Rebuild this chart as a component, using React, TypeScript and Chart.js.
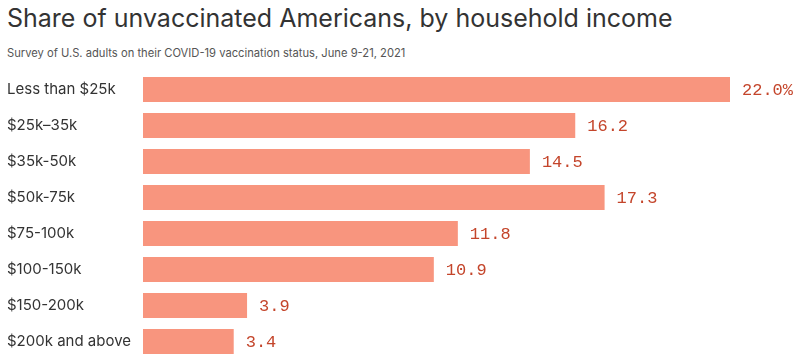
import React, { useEffect, useRef } from "react";
import { Chart, registerables } from "chart.js";

Chart.register(...registerables);

const categories = [
  "Less than $25k",
  "$25k–35k",
  "$35k-50k",
  "$50k-75k",
  "$75-100k",
  "$100-150k",
  "$150-200k",
  "$200k and above",
];
const values = [22.0, 16.2, 14.5, 17.3, 11.8, 10.9, 3.9, 3.4];
const valueLabels = ["22.0%", "16.2", "14.5", "17.3", "11.8", "10.9", "3.9", "3.4"];

const TITLE = "Share of unvaccinated Americans, by household income";
const SUBTITLE = "Survey of U.S. adults on their COVID-19 vaccination status, June 9-21, 2021";

const FONT = "Inter, 'Noto Sans', sans-serif";

const valueLabelPlugin = {
  id: "valueLabels",
  afterDatasetsDraw(chart: any) {
    const ctx = chart.ctx;
    const meta = chart.getDatasetMeta(0);
    ctx.save();
    ctx.font = "17px 'Liberation Mono', 'DejaVu Sans Mono', monospace";
    ctx.fillStyle = "#c4452b";
    ctx.textAlign = "left";
    ctx.textBaseline = "middle";
    meta.data.forEach((bar: any, i: number) => {
      ctx.fillText(valueLabels[i], bar.x + 12, bar.y + 1);
    });
    ctx.restore();
  },
};

export default function App() {
  const ref = useRef<HTMLCanvasElement>(null);
  useEffect(() => {
    if (!ref.current) return;
    const chart = new Chart(ref.current, {
      type: "bar",
      data: {
        labels: categories,
        datasets: [
          {
            data: values,
            backgroundColor: "#f8957e",
            borderWidth: 0,
            barPercentage: 25 / 36,
            categoryPercentage: 1,
          },
        ],
      },
      options: {
        indexAxis: "y",
        animation: false,
        responsive: false,
        maintainAspectRatio: false,
        layout: { padding: { left: 7, top: 71.5, right: 71, bottom: 3.5 } },
        plugins: {
          legend: { display: false },
          tooltip: { enabled: false },
          title: { display: false },
        },
        scales: {
          x: {
            display: false,
            min: 0,
            max: 22,
          },
          y: {
            grid: { display: false, drawTicks: false },
            border: { display: false },
            ticks: {
              crossAlign: "far",
              padding: 0,
              color: "#333333",
              font: { family: FONT, size: 15 },
            },
            afterFit(scale: any) {
              scale.width = 136;
              scale.paddingTop = 0;
              scale.paddingBottom = 0;
            },
          },
        },
      },
      plugins: [valueLabelPlugin],
    });
    return () => chart.destroy();
  }, []);

  return (
    <div style={{ position: "absolute", left: 0, top: 0, width: 801, height: 363, background: "#fff" }}>
      <div
        style={{
          position: "absolute",
          left: 7,
          top: 2,
          fontFamily: FONT,
          fontSize: 25,
          color: "#333333",
          whiteSpace: "nowrap",
          lineHeight: "32px",
        }}
      >
        {TITLE}
      </div>
      <div
        style={{
          position: "absolute",
          left: 7,
          top: 45,
          fontFamily: FONT,
          fontSize: 11.2,
          color: "#555555",
          whiteSpace: "nowrap",
          lineHeight: "16px",
        }}
      >
        {SUBTITLE}
      </div>
      <canvas ref={ref} width={801} height={363} style={{ position: "absolute", left: 0, top: 0 }} />
    </div>
  );
}
